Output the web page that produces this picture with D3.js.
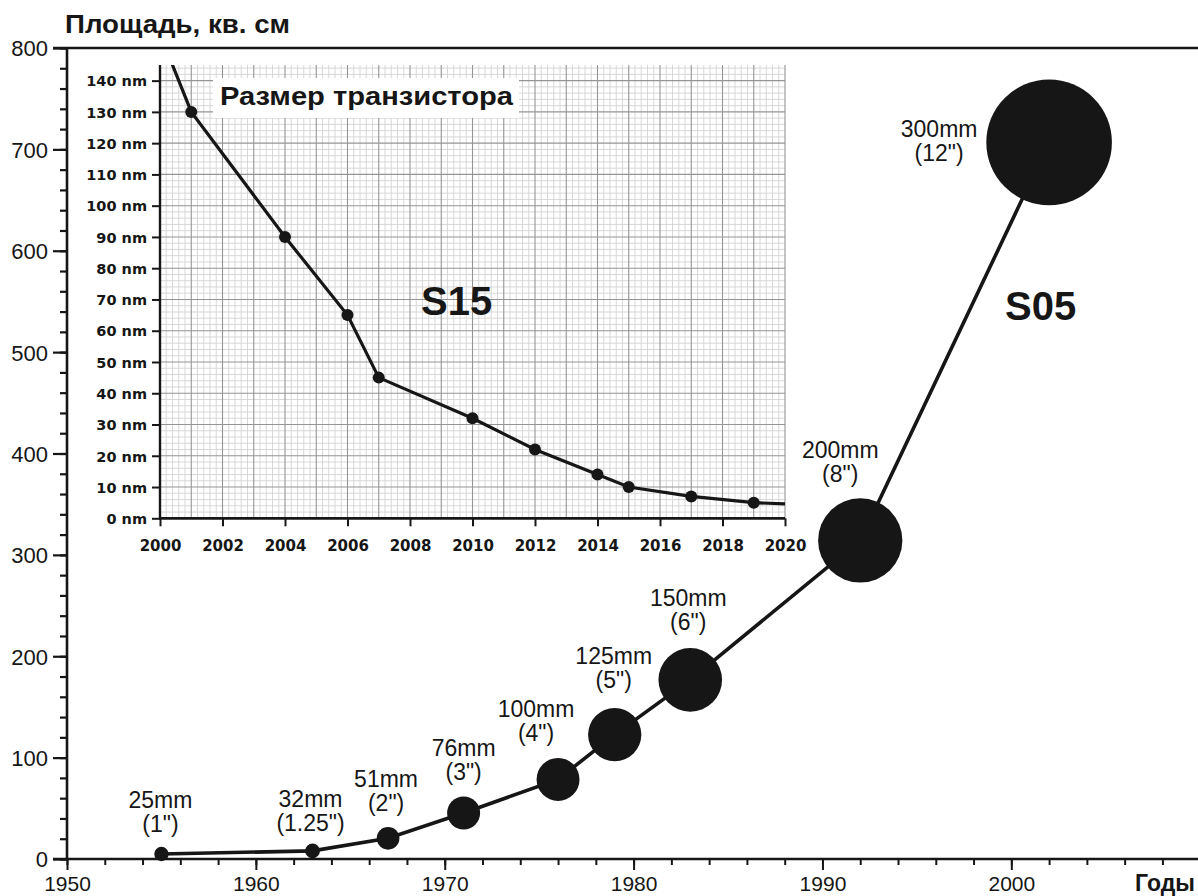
<!DOCTYPE html>
<html><head><meta charset="utf-8">
<script src="https://cdn.jsdelivr.net/npm/d3@7"></script>
<style>body{margin:0;background:#fff}svg{display:block}</style>
</head><body>
<svg id="c" width="1198" height="896"></svg>
<script>
// ---- main chart data (wafer size vs year) ----
const waferYears  = [1955, 1963, 1967, 1971, 1976, 1979, 1983, 1992, 2002];
const waferAreas  = [4.9, 8.0, 20.4, 45.4, 78.5, 122.7, 176.7, 314.2, 706.9];
const waferNames  = ["25mm", "32mm", "51mm", "76mm", "100mm", "125mm", "150mm", "200mm", "300mm"];
const waferInches = ['(1")', '(1.25")', '(2")', '(3")', '(4")', '(5")', '(6")', '(8")', '(12")'];
const mainYTicks  = [0, 100, 200, 300, 400, 500, 600, 700, 800];
const mainXTicks  = [1950, 1960, 1970, 1980, 1990, 2000];

// ---- inset data (transistor size vs year) ----
const nodeYears  = [1999, 2001, 2004, 2006, 2007, 2010, 2012, 2014, 2015, 2017, 2019, 2020];
const nodeSizes  = [180, 130, 90, 65, 45, 32, 22, 14, 10, 7, 5, 4.6];
const nodeMarked = [false, true, true, true, true, true, true, true, true, true, true, false];
const insetYTicks = [0, 10, 20, 30, 40, 50, 60, 70, 80, 90, 100, 110, 120, 130, 140];
const insetXTicks = [2000, 2002, 2004, 2006, 2008, 2010, 2012, 2014, 2016, 2018, 2020];

// label placement relative to each bubble centre (layout only)
const labelDX = [-1, -2, -2, 0, -22, -1, -2, -20, -110];
const labelDY = [-46, -44, -51, -57, -62, -71, -74, -82, -5];

const svg = d3.select("#c");
const INK = "#161616";
const SANS = "'Liberation Sans', Arial, sans-serif";
const DJ = "'DejaVu Sans', sans-serif";

// ================= MAIN CHART =================
const x = d3.scaleLinear([1950, 2010], [67, 1200.2]);
const y = d3.scaleLinear([0, 800], [859, 48]);
const r = d3.scaleSqrt([0, 706.9], [0, 62]);

const main = svg.append("g");

// minor y ticks
main.append("g").attr("transform", `translate(${x(1950)},0)`)
  .call(d3.axisLeft(y).tickValues(d3.range(0, 801, 20)).tickSize(7).tickFormat(""))
  .call(g => { g.select(".domain").remove(); g.selectAll("line").attr("stroke", INK).attr("stroke-width", 2.2); });
// major y ticks
main.append("g").attr("transform", `translate(${x(1950)},0)`)
  .call(d3.axisLeft(y).tickValues(mainYTicks).tickSize(14).tickPadding(5))
  .call(g => {
    g.select(".domain").remove();
    g.selectAll("line").attr("stroke", INK).attr("stroke-width", 2.2);
    g.selectAll("text").attr("font-family", SANS).attr("font-size", 22).attr("fill", INK).attr("dy", "0.36em");
  });
// minor x ticks
main.append("g").attr("transform", `translate(0,${y(0)})`)
  .call(d3.axisBottom(x).tickValues(d3.range(1950, 2009, 2)).tickSize(6).tickFormat(""))
  .call(g => { g.select(".domain").remove(); g.selectAll("line").attr("stroke", INK).attr("stroke-width", 2); });
// major x ticks
main.append("g").attr("transform", `translate(0,${y(0)})`)
  .call(d3.axisBottom(x).tickValues(mainXTicks).tickSize(11).tickFormat(d3.format("d")))
  .call(g => {
    g.select(".domain").remove();
    g.selectAll("line").attr("stroke", INK).attr("stroke-width", 2);
    g.selectAll("text").attr("font-family", SANS).attr("font-size", 21).attr("fill", INK)
      .attr("y", 32).attr("dy", null);
  });

// axis frame lines
main.append("line").attr("x1", x(1950) - 14).attr("x2", 1198).attr("y1", y(0)).attr("y2", y(0))
  .attr("stroke", INK).attr("stroke-width", 2.6);
main.append("line").attr("x1", x(1950) - 14).attr("x2", 1198).attr("y1", y(800)).attr("y2", y(800))
  .attr("stroke", INK).attr("stroke-width", 2.6);
main.append("line").attr("x1", x(1950)).attr("x2", x(1950)).attr("y1", y(800)).attr("y2", y(0))
  .attr("stroke", INK).attr("stroke-width", 2.6);

// titles
svg.append("text").attr("x", 65).attr("y", 33).text("Площадь, кв. см")
  .attr("font-family", SANS).attr("font-weight", "bold").attr("font-size", 25).attr("fill", INK)
  .attr("textLength", 225).attr("lengthAdjust", "spacingAndGlyphs");
svg.append("text").attr("x", 1195).attr("y", 891).attr("text-anchor", "end").text("Годы")
  .attr("font-family", SANS).attr("font-weight", "bold").attr("font-size", 23).attr("fill", INK);

const wafers = waferYears.map((yr, i) => ({yr, area: waferAreas[i], name: waferNames[i], inch: waferInches[i], dx: labelDX[i], dy: labelDY[i]}));

main.append("path").datum(wafers)
  .attr("d", d3.line().x(d => x(d.yr)).y(d => y(d.area)))
  .attr("fill", "none").attr("stroke", INK).attr("stroke-width", 3.6);

main.selectAll("circle.w").data(wafers).join("circle").attr("class", "w")
  .attr("cx", d => x(d.yr)).attr("cy", d => y(d.area)).attr("r", d => Math.max(r(d.area) + 0.8, 7.2))
  .attr("fill", INK);

const lab = main.selectAll("g.lab").data(wafers).join("g").attr("class", "lab")
  .attr("transform", d => `translate(${x(d.yr) + d.dx},${y(d.area) + d.dy})`)
  .attr("font-family", SANS).attr("font-size", 23).attr("fill", INK).attr("text-anchor", "middle");
lab.append("text").attr("y", 0).text(d => d.name);
lab.append("text").attr("y", 24).text(d => d.inch);

svg.append("text").attr("x", 1005).attr("y", 320).text("S05")
  .attr("font-family", SANS).attr("font-weight", "bold").attr("font-size", 40).attr("fill", INK);

// ================= INSET =================
const ix = d3.scaleLinear([2000, 2020], [160, 785]);
const iy = d3.scaleLinear([0, 145], [518.3, 65]);
const inset = svg.append("g");

inset.append("rect").attr("x", ix(2000)).attr("y", iy(145)).attr("width", ix(2020) - ix(2000))
  .attr("height", iy(0) - iy(145)).attr("fill", "#fff");

// minor grid
const minorX = d3.range(0, 101).map(k => 2000 + k * 0.2).filter(v => Math.abs(v - Math.round(v)) > 1e-6);
const minorY = d3.range(0, 73).map(k => k * 2).filter(v => v % 10 !== 0 && v <= 145);
inset.append("g").selectAll("line").data(minorX).join("line")
  .attr("x1", d => ix(d)).attr("x2", d => ix(d)).attr("y1", iy(145)).attr("y2", iy(0))
  .attr("stroke", "#d4d4d4").attr("stroke-width", 0.9);
inset.append("g").selectAll("line").data(minorY).join("line")
  .attr("y1", d => iy(d)).attr("y2", d => iy(d)).attr("x1", ix(2000)).attr("x2", ix(2020))
  .attr("stroke", "#d4d4d4").attr("stroke-width", 0.9);
// major grid
inset.append("g").selectAll("line").data(d3.range(2001, 2021)).join("line")
  .attr("x1", d => ix(d)).attr("x2", d => ix(d)).attr("y1", iy(145)).attr("y2", iy(0))
  .attr("stroke", "#959595").attr("stroke-width", 1.1);
inset.append("g").selectAll("line").data(insetYTicks.filter(v => v > 0)).join("line")
  .attr("y1", d => iy(d)).attr("y2", d => iy(d)).attr("x1", ix(2000)).attr("x2", ix(2020))
  .attr("stroke", "#959595").attr("stroke-width", 1.1);

// inset axes
inset.append("g").attr("transform", `translate(${ix(2000)},0)`)
  .call(d3.axisLeft(iy).tickValues(insetYTicks).tickSize(8).tickPadding(5).tickFormat(d => d + " nm"))
  .call(g => {
    g.select(".domain").remove();
    g.selectAll("line").attr("stroke", INK).attr("stroke-width", 2);
    g.selectAll("text").attr("font-family", DJ).attr("font-weight", "bold").attr("font-size", 14.5)
      .attr("fill", INK).attr("dy", "0.36em");
  });
inset.append("g").attr("transform", `translate(0,${iy(0)})`)
  .call(d3.axisBottom(ix).tickValues(insetXTicks).tickSize(8).tickFormat(d3.format("d")))
  .call(g => {
    g.select(".domain").remove();
    g.selectAll("line").attr("stroke", INK).attr("stroke-width", 2);
    g.selectAll("text").attr("font-family", DJ).attr("font-weight", "bold").attr("font-size", 15)
      .attr("fill", INK).attr("y", 33).attr("dy", null);
  });
inset.append("line").attr("x1", ix(2000)).attr("x2", ix(2000)).attr("y1", iy(145)).attr("y2", iy(0))
  .attr("stroke", INK).attr("stroke-width", 2.4);
inset.append("line").attr("x1", ix(2000) - 1).attr("x2", ix(2020)).attr("y1", iy(0)).attr("y2", iy(0))
  .attr("stroke", INK).attr("stroke-width", 2.8);

// label box + title
inset.append("rect").attr("x", 213).attr("y", 78).attr("width", 306).attr("height", 40).attr("fill", "#fff");
inset.append("text").attr("x", 220).attr("y", 105).text("Размер транзистора")
  .attr("font-family", SANS).attr("font-weight", "bold").attr("font-size", 25).attr("fill", INK)
  .attr("textLength", 293).attr("lengthAdjust", "spacingAndGlyphs");

// data line
svg.append("clipPath").attr("id", "ic").append("rect")
  .attr("x", ix(2000)).attr("y", iy(145)).attr("width", ix(2020) - ix(2000)).attr("height", iy(0) - iy(145));
const nodes = nodeYears.map((yr, i) => ({yr, nm: nodeSizes[i], m: nodeMarked[i]}));
inset.append("path").datum(nodes).attr("clip-path", "url(#ic)")
  .attr("d", d3.line().x(d => ix(d.yr)).y(d => iy(d.nm)))
  .attr("fill", "none").attr("stroke", INK).attr("stroke-width", 3.2);
inset.selectAll("circle.n").data(nodes.filter(d => d.m)).join("circle").attr("class", "n")
  .attr("cx", d => ix(d.yr)).attr("cy", d => iy(d.nm)).attr("r", 6).attr("fill", INK);

inset.append("text").attr("x", 421).attr("y", 315).text("S15")
  .attr("font-family", SANS).attr("font-weight", "bold").attr("font-size", 40).attr("fill", INK);
</script>
</body></html>
